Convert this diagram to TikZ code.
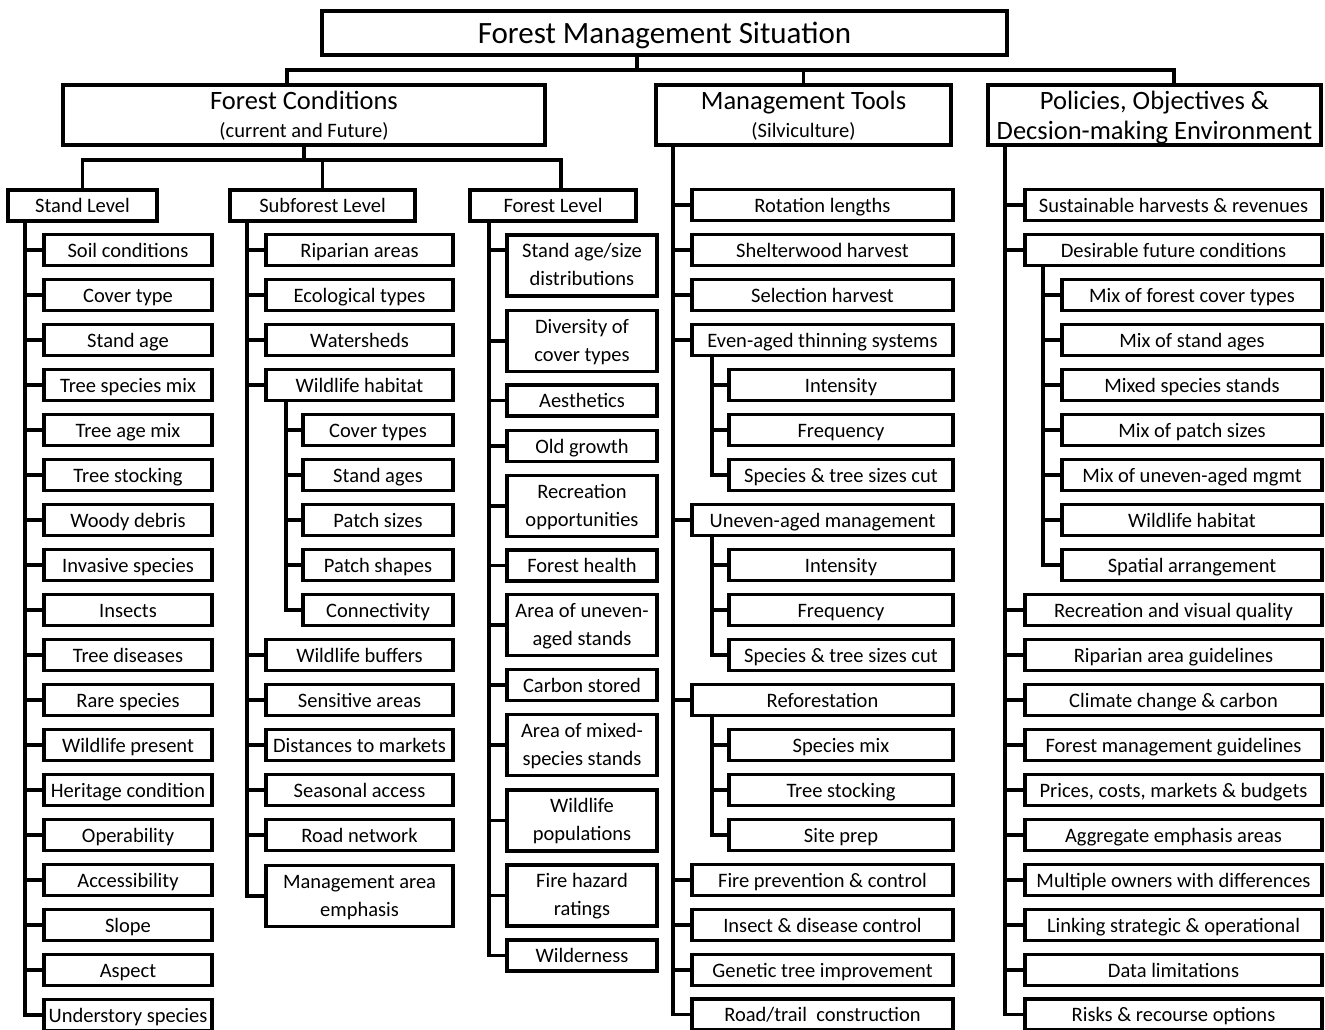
\documentclass[tikz,border=0pt]{standalone}
\usepackage{fontspec}
\setmainfont{Carlito}
\newcommand\twol[2]{\rule{0pt}{20.6pt}#1\\#2\strut}
\begin{document}
\begin{tikzpicture}[x=1pt,y=-1pt,
  box/.style={draw, line width=3.2pt, inner sep=0pt, font=\fontsize{20.5}{28}\selectfont},
  one/.style={box, minimum height=31pt, text height=18pt, text depth=3.4pt},
  two/.style={box, align=center, minimum height=61pt},
  head/.style={box, align=center, minimum height=60pt},
  ln/.style={line width=3.2pt}
]
\useasboundingbox (0,0) rectangle (1325,1030);

% ---- title
\node[box, minimum width=685pt, minimum height=44pt, font=\fontsize{31}{36}\selectfont,
      text height=27pt, text depth=5pt] (title) at (664.5,33) {Forest Management Situation};

% ---- level 2
\node[head, minimum width=482pt] (fc) at (304,115)
  {{\fontsize{26.5}{28}\selectfont\rule{0pt}{24pt}Forest Conditions}\\(current and Future)\rule[-6pt]{0pt}{6pt}};
\node[head, minimum width=295pt] (mt) at (803.5,115)
  {{\fontsize{26.5}{28}\selectfont\rule{0pt}{24pt}Management Tools}\\(Silviculture)\rule[-6pt]{0pt}{6pt}};
\node[head, minimum width=333pt, font=\fontsize{26.5}{30}\selectfont] (po) at (1154.5,115)
  {\rule{0pt}{24.5pt}Policies, Objectives \&\\Decsion-making Environment\rule[-5.5pt]{0pt}{5.5pt}};

\coordinate (tj) at (637,70);
\draw[ln] (title.south -| tj) -- (tj);
\draw[ln] (tj) -| ([xshift=-17pt]fc.north);
\draw[ln] (tj) -| (mt.north);
\draw[ln] (tj) -| ([xshift=19.5pt]po.north);

% ---- level 3 under forest conditions
\node[one, minimum width=149pt] (sl) at (82.5,205.5) {Stand Level};
\node[one, minimum width=185pt] (sf) at (322.5,205.5) {Subforest Level};
\node[one, minimum width=166pt] (fl) at (553,205.5) {Forest Level};
\coordinate (fj) at (304,160);
\draw[ln] (fc.south) -- (fj);
\draw[ln] (fj) -| (sl.north);
\draw[ln] (fj) -| (sf.north);
\draw[ln] (fj) -| ([xshift=8pt]fl.north);

% ---- Stand level
\coordinate (sT) at (25,221);
\foreach \t [count=\i] in {Soil conditions,Cover type,Stand age,Tree species mix,Tree age mix,Tree stocking,Woody debris,Invasive species,Insects,Tree diseases,Rare species,Wildlife present,Heritage condition,Operability,Accessibility,Slope,Aspect,Understory species}{
  \node[one, minimum width=168pt] (s\i) at (128,{205+45*\i}) {\t};
  \draw[ln] (sT) |- (s\i.west);
}

% ---- Subforest level
\coordinate (fT) at (247,221);
\foreach \t [count=\i] in {Riparian areas,Ecological types,Watersheds,Wildlife habitat}{
  \node[one, minimum width=187pt] (f\i) at (359.5,{205+45*\i}) {\t};
  \draw[ln] (fT) |- (f\i.west);
}
\coordinate (whT) at (286,400.5);
\foreach \t [count=\i] in {Cover types,Stand ages,Patch sizes,Patch shapes,Connectivity}{
  \node[one, minimum width=150pt] (w\i) at (378,{385+45*\i}) {\t};
  \draw[ln] (whT) |- (w\i.west);
}
\foreach \t [count=\i from 5] in {Wildlife buffers,Sensitive areas,Distances to markets,Seasonal access,Road network}{
  \node[one, minimum width=187pt] (f\i) at (359.5,{430+45*\i}) {\t};
  \draw[ln] (fT) |- (f\i.west);
}
\node[two, minimum width=187pt] (f10) at (359.5,896) {\twol{Management area}{emphasis}};
\draw[ln] (fT) |- (f10.west);

% ---- Forest level
\coordinate (gT) at (489,221);
\node[two, minimum width=150pt] (g1) at (582,265.5) {\twol{Stand age/size}{distributions}};
\draw[ln] (gT) |- ([yshift=15.5pt]g1.west);
\node[two, minimum width=150pt] (g2) at (582,341) {\twol{Diversity of}{cover types}};
\node[one, minimum width=150pt] (g3) at (582,400.5) {Aesthetics};
\node[one, minimum width=150pt] (g4) at (582,446) {Old growth};
\node[two, minimum width=150pt] (g5) at (582,506) {\twol{Recreation}{opportunities}};
\node[one, minimum width=150pt] (g6) at (582,565.5) {Forest health};
\node[two, minimum width=150pt] (g7) at (582,625) {\twol{Area of uneven-}{aged stands}};
\node[one, minimum width=150pt] (g8) at (582,685) {Carbon stored};
\node[two, minimum width=150pt] (g9) at (582,745) {\twol{Area of mixed-}{species stands}};
\node[two, minimum width=150pt] (g10) at (582,820.5) {\twol{Wildlife}{populations}};
\node[two, minimum width=150pt] (g11) at (582,895.5) {\twol{Fire hazard}{ratings}};
\node[one, minimum width=150pt] (g12) at (582,955.5) {Wilderness};
\foreach \i in {2,...,12}{\draw[ln] (gT) |- (g\i.west);}

% ---- Management tools
\coordinate (mT) at (673,145);
\foreach \t/\y [count=\i] in {Rotation lengths/205,Shelterwood harvest/250,Selection harvest/295,Even-aged thinning systems/340,Uneven-aged management/520,Reforestation/700,Fire prevention \& control/880,Insect \& disease control/925,Genetic tree improvement/970,{Road/trail\ \ construction}/1014.5}{
  \node[one, minimum width=261pt] (m\i) at (822.5,\y) {\t};
  \draw[ln] (mT) |- (m\i.west);
}
\coordinate (eaT) at (712,355.5);
\foreach \t [count=\i] in {Intensity,Frequency,Species \& tree sizes cut}{
  \node[one, minimum width=224pt] (ea\i) at (841,{340+45*\i}) {\t};
  \draw[ln] (eaT) |- (ea\i.west);
}
\coordinate (uaT) at (712,535.5);
\foreach \t [count=\i] in {Intensity,Frequency,Species \& tree sizes cut}{
  \node[one, minimum width=224pt] (ua\i) at (841,{520+45*\i}) {\t};
  \draw[ln] (uaT) |- (ua\i.west);
}
\coordinate (rfT) at (712,715.5);
\foreach \t [count=\i] in {Species mix,Tree stocking,Site prep}{
  \node[one, minimum width=224pt] (rf\i) at (841,{700+45*\i}) {\t};
  \draw[ln] (rfT) |- (rf\i.west);
}

% ---- Policies
\coordinate (pT) at (1005,145);
\foreach \t/\y [count=\i] in {Sustainable harvests \& revenues/205,Desirable future conditions/250,Recreation and visual quality/610,Riparian area guidelines/655,Climate change \& carbon/700,Forest management guidelines/745,{Prices, costs, markets \& budgets}/790,Aggregate emphasis areas/835,Multiple owners with differences/880,Linking strategic \& operational/925,Data limitations/970,Risks \& recourse options/1014.5}{
  \node[one, minimum width=297pt] (p\i) at (1173.5,\y) {\t};
  \draw[ln] (pT) |- (p\i.west);
}
\coordinate (dT) at (1043,265.5);
\foreach \t [count=\i] in {Mix of forest cover types,Mix of stand ages,Mixed species stands,Mix of patch sizes,Mix of uneven-aged mgmt,Wildlife habitat,Spatial arrangement}{
  \node[one, minimum width=260pt] (d\i) at (1192,{250+45*\i}) {\t};
  \draw[ln] (dT) |- (d\i.west);
}
\end{tikzpicture}
\end{document}
